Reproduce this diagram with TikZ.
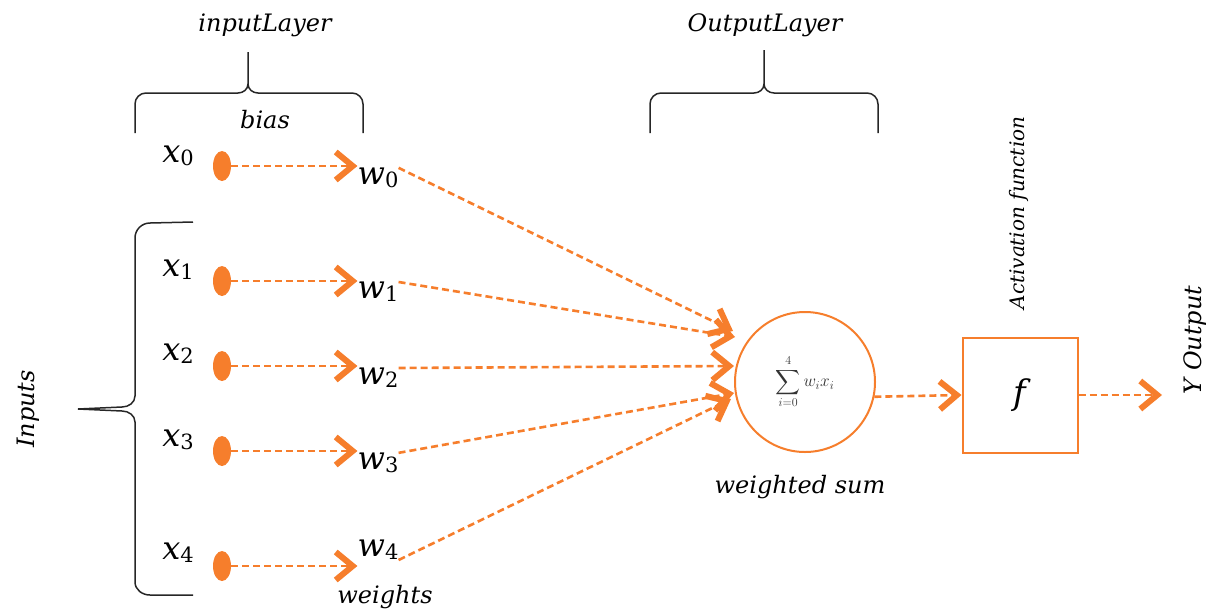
\documentclass[tikz,border=0pt]{standalone}
\usepackage{amsmath}
\usepackage{fontspec}
\setmainfont{DejaVu Serif}
\usetikzlibrary{arrows.meta,shapes.geometric}
\definecolor{org}{RGB}{246,126,44}
\newcommand{\vsub}[2]{{\fontsize{32}{36}\selectfont\itshape #1}\raisebox{-0.3em}{\fontsize{21}{24}\selectfont #2}}
\tikzset{
  lbl/.style={inner sep=0pt, font=\fontsize{24}{28}\selectfont\itshape},
  var/.style={inner sep=0pt},
  dotn/.style={ellipse, fill=org, minimum width=18pt, minimum height=30pt, inner sep=0pt},
  conn/.style={draw=org, line width=2.6pt, dash pattern=on 7pt off 4pt,
     -{Straight Barb[length=17pt,width=28pt,line width=6pt]}},
  bracel/.style={draw=black!85, line width=1.5pt},
}
\begin{document}
\begin{tikzpicture}[x=1pt,y=1pt]
\useasboundingbox (0,0) rectangle (1218,-614);
% labels on top
\node[lbl] (il) at (265,-25) {inputLayer};
\node[lbl] (bias) at (265,-120) {bias};
\node[lbl] (ol) at (765,-25) {OutputLayer};
% braces
\draw[bracel] (135,-133) -- (135,-104) to[out=90,in=180] (146,-93) -- (238,-93) to[out=0,in=-90] (248,-84) -- (248,-52);
\draw[bracel] (248,-84) to[out=-90,in=180] (258,-93) -- (352,-93) to[out=0,in=90] (363,-104) -- (363,-133);
\draw[bracel] (650,-133) -- (650,-104) to[out=90,in=180] (661,-93) -- (754,-93) to[out=0,in=-90] (764,-84) -- (764,-50);
\draw[bracel] (764,-84) to[out=-90,in=180] (774,-93) -- (867,-93) to[out=0,in=90] (878,-104) -- (878,-133);
\draw[bracel] (193,-222) -- (150,-223) to[out=180,in=90] (135,-238) -- (135,-396) to[out=-90,in=0] (122,-407) -- (78,-409);
\draw[bracel] (78,-409) -- (122,-411) to[out=0,in=90] (135,-422) -- (135,-582) to[out=-90,in=180] (150,-595) -- (193,-595);
\node[lbl, rotate=90] (inp) at (28,-409) {Inputs};
% inputs
\node[var] (x0) at (178,-156) {\vsub{x}{0}};
\node[var] (x1) at (178,-270) {\vsub{x}{1}};
\node[var] (x2) at (178,-354) {\vsub{x}{2}};
\node[var] (x3) at (178,-440) {\vsub{x}{3}};
\node[var] (x4) at (178,-553) {\vsub{x}{4}};
\node[dotn] (d0) at (222,-166) {};
\node[dotn] (d1) at (222,-281) {};
\node[dotn] (d2) at (222,-366) {};
\node[dotn] (d3) at (222,-451) {};
\node[dotn] (d4) at (222,-566) {};
\node[var] (w0) at (378,-178) {\vsub{w}{0}};
\node[var] (w1) at (378,-292) {\vsub{w}{1}};
\node[var] (w2) at (378,-378) {\vsub{w}{2}};
\node[var] (w3) at (378,-463) {\vsub{w}{3}};
\node[var] (w4) at (378,-550) {\vsub{w}{4}};
\node[lbl] (wts) at (385,-597) {weights};
\foreach \i in {0,...,4}{
  \draw[conn] (d\i) -- (d\i -| w\i.west);
}
% summation
\node[circle, draw=org, line width=2pt, fill=white, minimum size=140pt, inner sep=0pt] (S) at (805,-382)
  {\fontsize{17}{20}\selectfont\color{black!80}$\displaystyle\sum_{i=0}^{4} w_i x_i$};
\node[lbl] (ws) at (800,-487) {weighted sum};
\coordinate (t0) at (733,-331);
\coordinate (t1) at (735,-337);
\coordinate (t2) at (734,-366);
\coordinate (t3) at (734,-393);
\coordinate (t4) at (731,-399);
\draw[conn] (w0.north east) -- (t0);
\draw[conn] (w1.north east) -- (t1);
\draw[conn] (w2.north east) -- (t2);
\draw[conn] (w3.north east) -- (t3);
\draw[conn] (w4.south east) -- (t4);
% activation
\node[draw=org, line width=2pt, minimum size=115pt, inner sep=0pt] (F) at (1020,-395)
  {\fontsize{34}{40}\selectfont\itshape f};
\node[inner sep=0pt, rotate=90, font=\fontsize{20}{24}\selectfont\itshape] (af) at (1019,-213) {Activation function};
\draw[conn] (S.-12) -- (F.west);
\coordinate (yend) at (1162,-395);
\draw[conn] (F.east) -- (yend);
\node[lbl, rotate=90] (out) at (1195,-340) {Y Output};
\end{tikzpicture}
\end{document}
